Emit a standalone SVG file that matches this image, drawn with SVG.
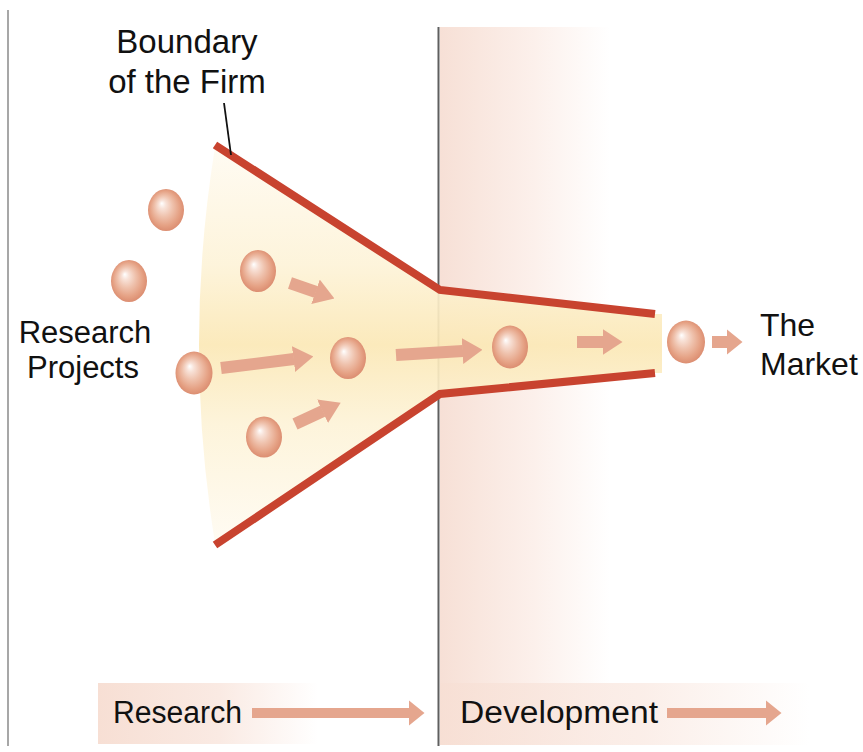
<svg xmlns="http://www.w3.org/2000/svg" width="863" height="752" viewBox="0 0 863 752">
<style>
  .lbl { font-family: "Liberation Sans", Arial, sans-serif; fill: #111; }
  .wall { fill: none; stroke: #c8432f; stroke-width: 8; stroke-linejoin: miter; }
  .arr { stroke: #e5a68e; stroke-width: 12; fill: none; }
  .arrb { stroke: #e5a68e; stroke-width: 10; fill: none; }
  .ball { fill: url(#ballGrad); }
</style>
<defs>
  <radialGradient id="ballGrad" cx="0.5" cy="0.5" r="0.55" fx="0.38" fy="0.34">
    <stop offset="0" stop-color="#ffffff"/>
    <stop offset="0.18" stop-color="#f8e2d8"/>
    <stop offset="0.45" stop-color="#efc2ad"/>
    <stop offset="0.75" stop-color="#e5a184"/>
    <stop offset="1" stop-color="#d8866a"/>
  </radialGradient>
  <linearGradient id="devGrad" x1="0" y1="0" x2="1" y2="0">
    <stop offset="0" stop-color="#f7e0d6"/>
    <stop offset="0.55" stop-color="#fcf0eb"/>
    <stop offset="1" stop-color="#ffffff"/>
  </linearGradient>
  <linearGradient id="bandGrad" x1="0" y1="0" x2="1" y2="0">
    <stop offset="0" stop-color="#f7dfd4"/>
    <stop offset="0.55" stop-color="#faeae3"/>
    <stop offset="1" stop-color="#ffffff"/>
  </linearGradient>
  <linearGradient id="glowGrad" x1="0" y1="145" x2="0" y2="545" gradientUnits="userSpaceOnUse">
    <stop offset="0" stop-color="#fffbf2"/>
    <stop offset="0.3" stop-color="#fdf3d8"/>
    <stop offset="0.5" stop-color="#fbe8b6"/>
    <stop offset="0.7" stop-color="#fdf3d8"/>
    <stop offset="1" stop-color="#fffbf2"/>
  </linearGradient>
  <marker id="head" markerUnits="userSpaceOnUse" markerWidth="20" markerHeight="26" viewBox="0 0 20 26" refX="0.5" refY="13" orient="auto">
    <path d="M0,0 L20,13 L0,26 Z" fill="#e5a68e"/>
  </marker>
  <marker id="headB" markerUnits="userSpaceOnUse" markerWidth="16" markerHeight="26" viewBox="0 0 16 26" refX="0.5" refY="13" orient="auto">
    <path d="M0,0 L16,13 L0,26 Z" fill="#e5a68e"/>
  </marker>
</defs>

<rect x="0" y="0" width="863" height="752" fill="#ffffff"/>

<g id="backgrounds">
  <rect x="440" y="27" width="170" height="718" fill="url(#devGrad)"/>
  <rect x="440" y="683" width="370" height="62" fill="url(#bandGrad)" opacity="0.8"/>
  <rect x="98" y="683" width="220" height="61" fill="url(#bandGrad)"/>
  <line x1="8" y1="10" x2="8" y2="746" stroke="#8a8a8a" stroke-width="1.5"/>
  <line x1="438.5" y1="27" x2="438.5" y2="746" stroke="#5f5f5f" stroke-width="2"/>
</g>

<g id="funnel">
  <path d="M215,147 Q183,345 215,543 L440,394 L655,373 L662,373 L662,314 L655,314 L440,290 Z" fill="url(#glowGrad)" opacity="0.92"/>
  <polyline class="wall" points="215,145 440,290 655,314"/>
  <polyline class="wall" points="215,545 440,394 655,373"/>
</g>

<g id="boundary-label">
  <text class="lbl" x="187" y="53" font-size="33" text-anchor="middle">Boundary</text>
  <text class="lbl" x="187" y="93" font-size="33" text-anchor="middle">of the Firm</text>
  <line x1="224" y1="103" x2="231" y2="155" stroke="#111" stroke-width="1.8"/>
</g>

<g id="research-projects-label">
  <text class="lbl" x="85" y="343" font-size="31" text-anchor="middle">Research</text>
  <text class="lbl" x="83" y="378" font-size="31" text-anchor="middle">Projects</text>
</g>

<g id="market-label">
  <text class="lbl" x="760" y="336" font-size="32">The</text>
  <text class="lbl" x="760" y="375" font-size="32">Market</text>
</g>

<g id="ball-a"><ellipse class="ball" cx="166" cy="210" rx="18" ry="21"/></g>
<g id="ball-b"><ellipse class="ball" cx="129" cy="281" rx="18" ry="21"/></g>
<g id="ball-c"><ellipse class="ball" cx="258" cy="271" rx="18" ry="21"/></g>
<g id="ball-d"><ellipse class="ball" cx="194" cy="373" rx="18.5" ry="21.5"/></g>
<g id="ball-e"><ellipse class="ball" cx="348" cy="358" rx="18" ry="21"/></g>
<g id="ball-f"><ellipse class="ball" cx="264" cy="437" rx="18" ry="20.5"/></g>
<g id="ball-g"><ellipse class="ball" cx="510" cy="347" rx="18" ry="21.5"/></g>
<g id="ball-h"><ellipse class="ball" cx="686" cy="342" rx="19" ry="21.5"/></g>

<g id="connectors">
  <line class="arr" x1="290" y1="283" x2="316" y2="292" marker-end="url(#head)"/>
  <line class="arr" x1="221" y1="368" x2="294" y2="359" marker-end="url(#head)"/>
  <line class="arr" x1="295" y1="424" x2="323" y2="411" marker-end="url(#head)"/>
  <line class="arr" x1="396" y1="355" x2="463" y2="351" marker-end="url(#head)"/>
  <line class="arr" x1="577" y1="342" x2="603" y2="342" marker-end="url(#head)"/>
  <line class="arr" x1="712" y1="342" x2="727" y2="342" marker-end="url(#headB)"/>
  <line class="arrb" x1="252" y1="713" x2="409" y2="713" marker-end="url(#headB)"/>
  <line class="arrb" x1="667" y1="713" x2="766" y2="713" marker-end="url(#headB)"/>
</g>

<g id="phase-labels">
  <text class="lbl" x="113" y="723" font-size="31" textLength="129" lengthAdjust="spacingAndGlyphs">Research</text>
  <text class="lbl" x="460" y="723" font-size="31" textLength="198" lengthAdjust="spacingAndGlyphs">Development</text>
</g>
</svg>
